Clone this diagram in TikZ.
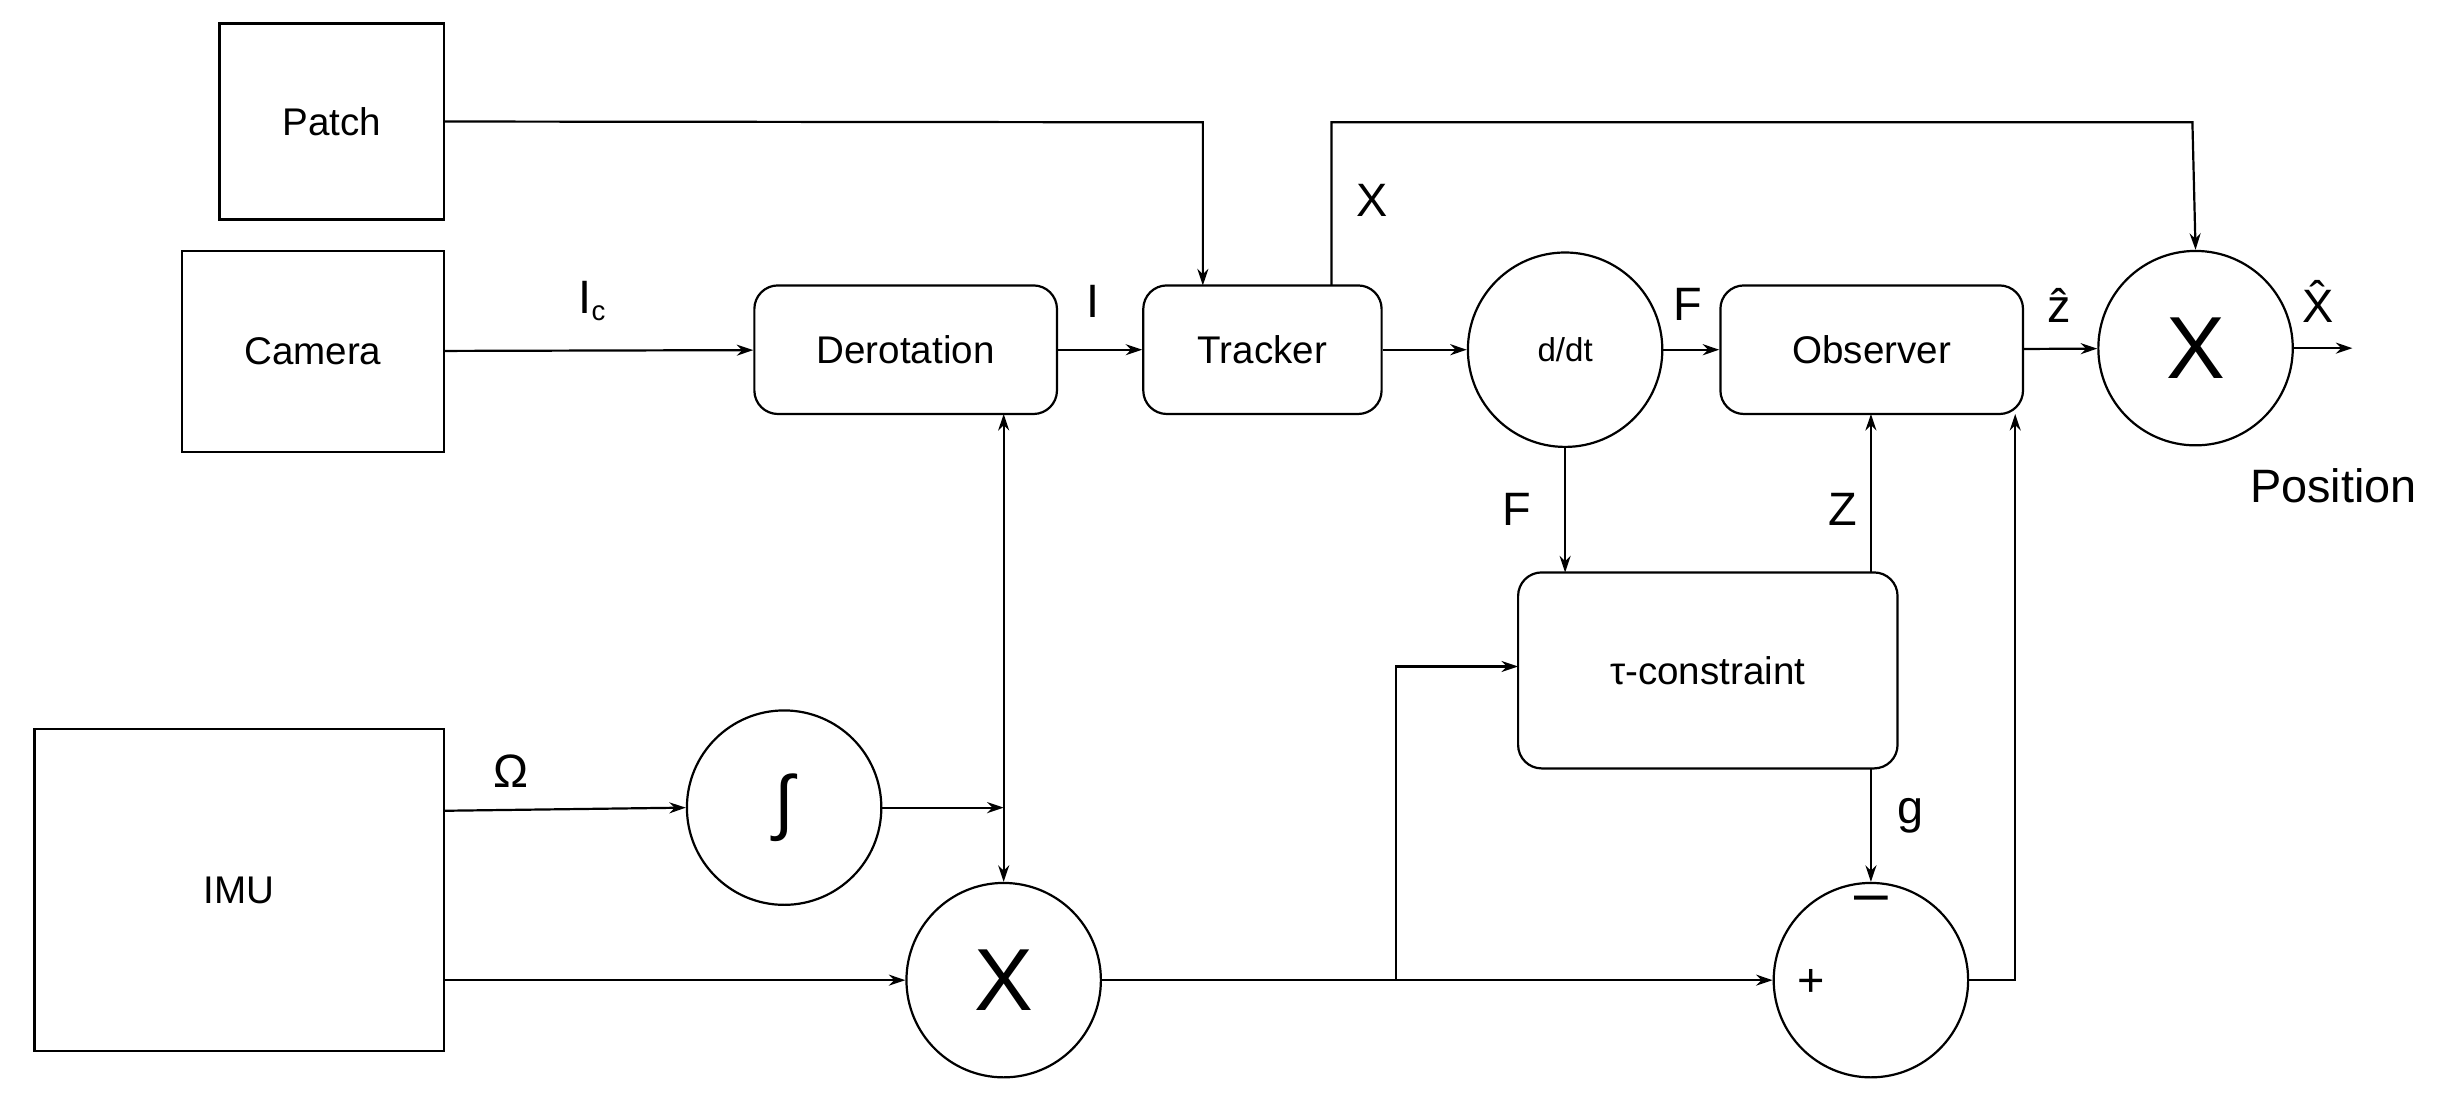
\documentclass[tikz,border=0pt]{standalone}
\usepackage{fontspec}
\setmainfont{Liberation Sans}
\usetikzlibrary{arrows.meta}
\begin{document}
\begin{tikzpicture}[x=0.02cm,y=-0.02cm,
  every node/.style={inner sep=0pt},
  sq/.style={draw,line width=0.8pt,font=\fontsize{14}{16}\selectfont},
  rb/.style={draw,line width=0.8pt,rounded corners=0.3cm,font=\fontsize{14}{16}\selectfont},
  cir/.style={draw,circle,line width=0.8pt,minimum size=2.48cm},
  lab/.style={font=\fontsize{17}{19}\selectfont},
  big/.style={font=\fontsize{32}{34}\selectfont},
  ar/.style={-{Stealth[length=6pt,width=4pt]},line width=0.8pt},
  ln/.style={line width=0.8pt}]
\useasboundingbox (0,0) rectangle (1568,705);
\node[sq,minimum width=2.86cm,minimum height=2.5cm] (patch) at (211.5,77.5) {Patch};
\node[sq,minimum width=3.34cm,minimum height=2.56cm] (cam) at (199.5,224) {Camera};
\node[rb,minimum width=3.86cm,minimum height=1.64cm] (der) at (577.5,223) {Derotation};
\node[rb,minimum width=3.04cm,minimum height=1.64cm] (trk) at (805,223) {Tracker};
\node[cir,font=\fontsize{12}{14}\selectfont] (ddt) at (998,223) {d/dt};
\node[rb,minimum width=3.86cm,minimum height=1.64cm] (obs) at (1193.5,223) {Observer};
\node[cir,big] (mx) at (1400,222) {X};
\node[rb,minimum width=4.84cm,minimum height=2.5cm] (tau) at (1089,427.5) {τ-constraint};
\node[sq,minimum width=5.22cm,minimum height=4.1cm] (imu) at (152.5,567.5) {IMU};
\node[cir,font=\fontsize{26}{28}\selectfont] (int) at (500,515) {∫};
\node[cir,big] (mul) at (640,625) {X};
\node[cir] (sub) at (1193,625) {};
\node[lab] at (1155,627) {+};
\node[font=\fontsize{22}{24}\selectfont] at (1193,577) {–};
\coordinate (out) at (1500,222);
\coordinate (br) at (890,625);
\coordinate (ij) at (640,515);
% labels
\node[lab] at (378,192) {I\textsubscript{\fontsize{10}{10}\selectfont c}};
\node[lab] at (697,192) {I};
\node[lab] at (875,128) {X};
\node[lab] at (1076,194) {F};
\node[lab] at (1313,195) {ẑ};
\node[lab] at (1478,192) {X̂};
\node[lab] at (1488,310) {Position};
\node[lab] at (967,325) {F};
\node[lab] at (1175,325) {Z};
\node[lab] at (1218,520) {g};
\node[lab] at (326,492) {Ω};
% connectors
\draw[ar] (patch.east) -- (767,78) -- (767,182);
\draw[ar] (849,182) -- (849,78) -- (1398,78) -- (mx.north);
\draw[ar] (cam) -- (der);
\draw[ar] (der) -- (trk);
\draw[ar] (trk) -- (ddt);
\draw[ar] (ddt) -- (obs);
\draw[ar] (obs) -- (mx);
\draw[ar] (mx) -- (out);
\draw[ar] (ddt.south) -- (998,365);
\draw[ar] (1193,365) -- (1193,264);
\draw[ar] (1193,490) -- (sub.north);
\draw[ar] (283,517) -- (int.west);
\draw[ar] (int.east) -- (ij);
\draw[{Stealth[length=6pt,width=4pt]}-{Stealth[length=6pt,width=4pt]},line width=0.8pt] (640,264) -- (mul.north);
\draw[ar] (283,625) -- (mul.west);
\draw[ar] (mul.east) -- (sub.west);
\draw[ar] (br) -- (890,425) -- (968,425);
\draw[ar] (sub.east) -- (1285,625) -- (1285,264);
\end{tikzpicture}
\end{document}
